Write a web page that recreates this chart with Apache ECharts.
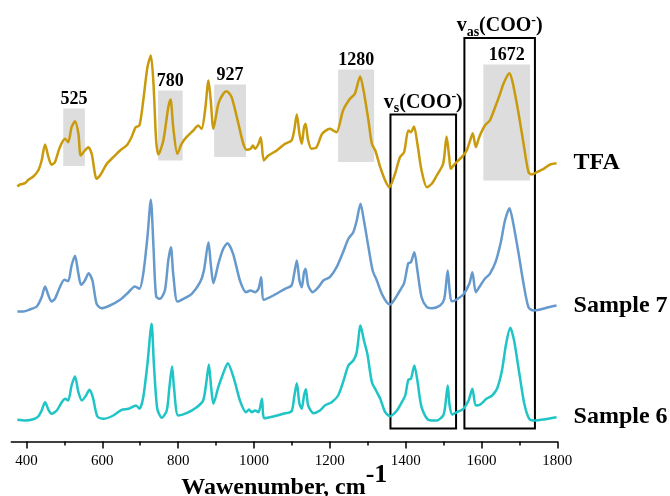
<!DOCTYPE html>
<html>
<head>
<meta charset="utf-8">
<script src="https://cdn.jsdelivr.net/npm/echarts@6/dist/echarts.min.js"></script>
<style>html,body{margin:0;padding:0;background:#fff}#c{width:670px;height:496px}</style>
</head>
<body>
<div id="c"></div>
<script>
// ---- Data (wavenumber, cm-1 / intensity, a.u.) ----
const tfaWn = [376,383,396,405,418,431,440,449,458,466,475,488,502,510,519,528,537,543,554,563,572,585,594,612,629,647,664,677,688,698,708,719,728,735,742,748,761,774,780,787,798,809,822,840,853,862,871,880,886,893,906,919,928,941,959,972,981,991,997,1003,1012,1018,1026,1038,1060,1082,1099,1106,1113,1120,1126,1132,1136,1143,1152,1165,1180,1200,1209,1218,1235,1253,1266,1280,1289,1302,1311,1320,1333,1346,1357,1372,1385,1396,1407,1414,1422,1431,1442,1456,1469,1482,1499,1508,1515,1519,1530,1548,1561,1570,1577,1585,1594,1609,1622,1636,1649,1658,1667,1674,1683,1698,1711,1724,1733,1746,1764,1781,1798];
const tfaInt = [5,7,8.3,11.7,15,21,31,47,34.3,26.7,29.3,44.3,52.7,49.3,64.3,70.3,57.7,36,41,44.3,37.7,12.7,16,27.7,34.3,41,46,54.3,64.3,66,91,124.3,136,107.7,51,37,51,84.3,92,64.3,37.7,47.7,54.3,61,66,62.7,81,111,91,62.7,87.7,97.7,100.3,94.3,67.7,47.7,41.7,42.7,46,42.7,47.7,54.3,31,36,41,47.7,51,61,77,57.7,47.7,64.3,67.7,51,42.7,44.3,57.7,62.7,61,59.3,81,92.7,97.7,115,101,71,47.7,41,24.3,11,4.3,17.7,34.3,39.3,61,59.3,65,47.7,21,4.3,7.7,16,27.7,55,34.3,22.7,27.7,34.3,41,51,58.3,44.3,54.3,66,71,84.3,97.7,107.7,115,118.3,107.7,77.7,47.7,19.3,17,19.3,22.7,27,28.3];

const s7Wn = [376,392,409,427,440,449,458,466,475,488,500,510,519,528,537,544,554,564,574,585,598,620,647,669,686,698,708,719,728,735,742,752,765,774,781,787,798,814,836,858,868,880,886,893,906,919,930,945,963,979,991,1003,1012,1019,1026,1051,1082,1099,1106,1113,1120,1126,1132,1136,1143,1155,1170,1183,1200,1218,1235,1249,1262,1271,1281,1290,1302,1313,1324,1337,1350,1359,1372,1385,1396,1407,1414,1423,1431,1442,1456,1469,1491,1502,1511,1516,1521,1530,1552,1568,1576,1585,1594,1609,1622,1637,1651,1662,1674,1684,1698,1711,1724,1737,1755,1777,1798];
const s7Int = [5,5,7,10,19.3,30,21,15,17.7,29.3,36.7,35.3,51,60.7,42.7,31.7,36,43.3,36,12.7,8.3,11,16.7,24.3,30,27.7,42.7,79.3,116.7,69.3,20,17.7,26,56,69.3,42.7,15,17.7,22.7,34.3,46,74.3,52.7,33.3,52.7,67.7,73.3,62.7,36,24.3,26,24.3,27.7,39.3,16.7,21,27.7,31,42.7,56,36,29.3,44.3,47.7,31,24.3,29.3,36,39.3,49.3,64.3,77.7,84.3,96,112.7,96,69.3,46,36,22.7,14.3,12,17.7,26,33.3,53.3,54.3,64.3,46,19.3,9.3,8.3,11,17.7,46,26,15.3,16,22,32.7,44.3,24.3,29.3,37.7,42.7,54.3,74.3,96,108.3,92.7,62.7,32.7,9.3,6,7,9.3,11];

const s6Wn = [376,396,418,431,440,449,458,466,480,493,502,510,519,528,537,546,557,566,575,587,603,629,651,669,689,698,708,719,730,736,745,757,770,777,784,789,800,822,849,866,875,881,887,893,906,919,931,946,963,979,987,994,1003,1012,1021,1027,1051,1077,1099,1106,1113,1120,1126,1132,1137,1143,1157,1174,1187,1205,1222,1235,1249,1262,1271,1281,1290,1299,1311,1322,1333,1346,1359,1377,1390,1399,1407,1414,1423,1431,1442,1460,1482,1499,1504,1511,1516,1523,1535,1552,1566,1576,1585,1597,1613,1628,1641,1654,1665,1676,1686,1700,1713,1726,1741,1763,1798];
const s6Int = [6.7,6,7.3,10,16,24.3,16.7,12.7,16,24.3,27.7,26,41,50,34.3,26,31,36.7,29.3,10,7.7,11,16.7,17.7,21,17.7,29.3,62.7,102.7,62.7,17.7,8.7,16,39.3,60,39.3,11,13.3,19.3,26,46,62,39.3,22.7,39.3,53.3,63.3,49.3,26,14.3,17,14.3,16,14.3,27.7,8.3,10,12.7,15.3,29.3,43.3,22.7,17.7,31,37.3,21,13.3,16,21,24.3,31,44.3,61,66,74.3,101,86,72.7,44.3,36,27.7,14.3,10.3,16,24.3,31,46.7,47.7,61,46,19.3,6.7,6,11,19.3,41,21,12,14.3,17.7,26,37.7,21,22,27.7,31,37.7,56,82.7,98.7,86,52.7,22.7,7.7,6,7,9.3];

// vertical stacking offsets of the spectra
const tfaOffset = 250;
const s7Offset = 125;
const s6Offset = 15;

const seriesNames = ['TFA', 'Sample 7', 'Sample 6'];
const majorTicks = [400, 600, 800, 1000, 1200, 1400, 1600, 1800];
const minorTicks = [500, 700, 900, 1100, 1300, 1500, 1700];

// highlighted peaks on TFA: [label, from, to, low, high]
const peakLabels = ['525', '780', '927', '1280', '1672'];
const peakFrom = [497, 747, 895, 1222, 1605];
const peakTo = [554, 812, 979, 1317, 1728];
const peakLow = [275.5, 281, 284.5, 279.5, 261];
const peakHigh = [333, 351, 357, 372, 377];

// carboxylate band boxes
const boxFrom = [1360, 1555];
const boxTo = [1533, 1741];
const boxLow = [13, 13];
const boxHigh = [327, 403.5];
const boxSub = ['s', 'as'];

const serif = "'Times New Roman', 'Liberation Serif', serif";

function pairs(xs, ys, off) { return xs.map((x, i) => [x, ys[i] + off]); }

const peakAreas = peakLabels.map((t, i) => [
  { name: t, coord: [peakFrom[i], peakLow[i]] },
  { coord: [peakTo[i], peakHigh[i]] }
]);
const boxAreas = boxFrom.map((f, i) => [
  { name: 'v' + boxSub[i], coord: [f, boxLow[i]],
    label: { formatter: '{m|v}{b|' + boxSub[i] + '}{m|(COO}{p|-}{m|)}' } },
  { coord: [boxTo[i], boxHigh[i]] }
]);

const endLabel = (txt) => ({
  show: true, formatter: txt, distance: 17, color: '#000',
  fontFamily: serif, fontWeight: 'bold', fontSize: 24
});

const chart = echarts.init(document.getElementById('c'), null, { renderer: 'canvas' });
chart.setOption({
  animation: false,
  backgroundColor: '#fff',
  grid: { left: 11.3, right: 112.7, top: 0, bottom: 54.5, outerBoundsMode: 'none' },
  xAxis: [{
    type: 'value', position: 'bottom', min: 360, max: 1800,
    splitLine: { show: false },
    axisLine: { show: true, onZero: false, lineStyle: { color: '#000', width: 1.5 } },
    axisTick: { show: true, inside: false, length: 7, customValues: majorTicks, lineStyle: { color: '#000', width: 1.5 } },
    axisLabel: { customValues: majorTicks, formatter: (v) => String(v), color: '#000', fontFamily: serif, fontSize: 15, margin: 12 },
    name: '{a|Wawenumber, cm}{s|-1}',
    nameLocation: 'middle', nameGap: 20.5, nameMoveOverlap: false,
    nameTextStyle: {
      rich: {
        a: { fontFamily: serif, fontWeight: 'bold', fontSize: 24, lineHeight: 38, verticalAlign: 'bottom', color: '#000' },
        s: { fontFamily: serif, fontWeight: 'bold', fontSize: 26, lineHeight: 26, verticalAlign: 'top', color: '#000' }
      }
    }
  }, {
    type: 'value', position: 'bottom', min: 360, max: 1800, gridIndex: 0,
    splitLine: { show: false },
    axisLine: { show: false },
    axisTick: { show: true, length: 4, customValues: minorTicks, lineStyle: { color: '#000', width: 1.5 } },
    axisLabel: { show: false }
  }],
  yAxis: { type: 'value', min: 0, max: 441.5, show: false },
  series: [{
    name: seriesNames[0], type: 'line', xAxisIndex: 0,
    data: pairs(tfaWn, tfaInt, tfaOffset), showSymbol: false, smooth: 0.25,
    lineStyle: { color: '#c99a0c', width: 2.5 }, itemStyle: { color: '#c99a0c' },
    endLabel: endLabel(seriesNames[0]),
    z: 3,
    markArea: {
      silent: true,
      itemStyle: { color: '#dddddd' },
      label: { show: true, position: 'top', distance: 0, color: '#000', fontFamily: serif, fontWeight: 'bold', fontSize: 18 },
      data: peakAreas
    }
  }, {
    name: seriesNames[1], type: 'line', xAxisIndex: 0,
    data: pairs(s7Wn, s7Int, s7Offset), showSymbol: false, smooth: 0.25,
    lineStyle: { color: '#6699cc', width: 2.5 }, itemStyle: { color: '#6699cc' },
    endLabel: endLabel(seriesNames[1]),
    z: 3
  }, {
    name: seriesNames[2], type: 'line', xAxisIndex: 0,
    data: pairs(s6Wn, s6Int, s6Offset), showSymbol: false, smooth: 0.25,
    lineStyle: { color: '#1fc4c6', width: 2.5 }, itemStyle: { color: '#1fc4c6' },
    endLabel: endLabel(seriesNames[2]),
    z: 3,
    markArea: {
      silent: true,
      itemStyle: { color: 'rgba(0,0,0,0)', borderColor: '#000', borderWidth: 2 },
      label: {
        show: true, position: 'top', distance: -2, color: '#000',
        rich: {
          m: { fontFamily: serif, fontWeight: 'bold', fontSize: 20, lineHeight: 26, verticalAlign: 'middle', color: '#000' },
          b: { fontFamily: serif, fontWeight: 'bold', fontSize: 14, lineHeight: 14, verticalAlign: 'bottom', color: '#000' },
          p: { fontFamily: serif, fontWeight: 'bold', fontSize: 14, lineHeight: 14, verticalAlign: 'top', color: '#000' }
        }
      },
      data: boxAreas
    }
  }]
});
</script>
</body>
</html>
